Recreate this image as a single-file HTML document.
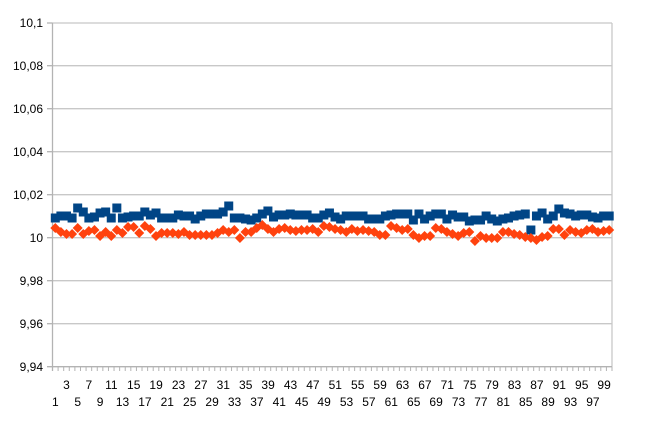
<!DOCTYPE html>
<html><head><meta charset="utf-8"><style>
html,body{margin:0;padding:0;background:#fff;}
svg{display:block;font-family:"Liberation Sans",sans-serif;font-size:12px;}
</style></head><body>
<svg id="s" width="649" height="427" viewBox="0 0 649 427">
<g stroke="#c8c8c8" stroke-width="1.3">
<line x1="52.5" x2="612" y1="23" y2="23"/>
<line x1="52.5" x2="612" y1="65.7" y2="65.7"/>
<line x1="52.5" x2="612" y1="108.7" y2="108.7"/>
<line x1="52.5" x2="612" y1="151.7" y2="151.7"/>
<line x1="52.5" x2="612" y1="194.7" y2="194.7"/>
<line x1="52.5" x2="612" y1="237.7" y2="237.7"/>
<line x1="52.5" x2="612" y1="280.7" y2="280.7"/>
<line x1="52.5" x2="612" y1="323.7" y2="323.7"/>
<line x1="612" x2="612" y1="23" y2="366.7"/>
</g>
<g stroke="#b3b3b3" stroke-width="1.3">
<line x1="52.5" x2="52.5" y1="23" y2="371"/>
<line x1="47" x2="612" y1="366.7" y2="366.7"/>
<line x1="47" x2="52.5" y1="23" y2="23"/><line x1="47" x2="52.5" y1="65.7" y2="65.7"/>
<line x1="47" x2="52.5" y1="108.7" y2="108.7"/><line x1="47" x2="52.5" y1="151.7" y2="151.7"/>
<line x1="47" x2="52.5" y1="194.7" y2="194.7"/><line x1="47" x2="52.5" y1="237.7" y2="237.7"/>
<line x1="47" x2="52.5" y1="280.7" y2="280.7"/><line x1="47" x2="52.5" y1="323.7" y2="323.7"/>
</g>
<g id="ticks" stroke="#b3b3b3" stroke-width="1"></g>
<g text-anchor="end" fill="#000">
<text x="43" y="27">10,1</text>
<text x="43" y="70">10,08</text>
<text x="43" y="113">10,06</text>
<text x="43" y="156">10,04</text>
<text x="43" y="199">10,02</text>
<text x="43" y="242">10</text>
<text x="43" y="285">9,98</text>
<text x="43" y="328">9,96</text>
<text x="43" y="371">9,94</text>
</g>
<g text-anchor="middle" fill="#000">
<text x="66.5" y="389">3</text><text x="88.9" y="389">7</text><text x="111.3" y="389">11</text><text x="133.7" y="389">15</text><text x="156.1" y="389">19</text><text x="178.5" y="389">23</text><text x="200.9" y="389">27</text><text x="223.3" y="389">31</text><text x="245.7" y="389">35</text><text x="268.1" y="389">39</text><text x="290.5" y="389">43</text><text x="312.9" y="389">47</text><text x="335.3" y="389">51</text><text x="357.7" y="389">55</text><text x="380.1" y="389">59</text><text x="402.5" y="389">63</text><text x="424.9" y="389">67</text><text x="447.3" y="389">71</text><text x="469.7" y="389">75</text><text x="492.1" y="389">79</text><text x="514.5" y="389">83</text><text x="536.9" y="389">87</text><text x="559.3" y="389">91</text><text x="581.7" y="389">95</text><text x="604.1" y="389">99</text>
<text x="55.3" y="406">1</text><text x="77.7" y="406">5</text><text x="100.1" y="406">9</text><text x="122.5" y="406">13</text><text x="144.9" y="406">17</text><text x="167.3" y="406">21</text><text x="189.7" y="406">25</text><text x="212.1" y="406">29</text><text x="234.5" y="406">33</text><text x="256.9" y="406">37</text><text x="279.3" y="406">41</text><text x="301.7" y="406">45</text><text x="324.1" y="406">49</text><text x="346.5" y="406">53</text><text x="368.9" y="406">57</text><text x="391.3" y="406">61</text><text x="413.7" y="406">65</text><text x="436.1" y="406">69</text><text x="458.5" y="406">73</text><text x="480.9" y="406">77</text><text x="503.3" y="406">81</text><text x="525.7" y="406">85</text><text x="548.1" y="406">89</text><text x="570.5" y="406">93</text><text x="592.9" y="406">97</text>
</g>
<g id="blue" fill="#004586"></g>
<g id="orange" fill="#ff420e"></g>
</svg>
<script>
var B=[218,216,216,218,208,212,218,217,213,212,218,208,218,217,216,216,212,215,213,218,218,218,215,216,216,219,216,214,214,214,212,206,218,218,219,220,218,214,211,217,215,215,214,215,215,215,218,218,215,213,217,219,216,216,216,216,219,219,219,216,215,214,214,214,220,214,219,216,214,214,219,215,217,217,221,220,220,216,219,221,219,218,216,215,214,230,216,213,219,216,209,213,214,216,215,215,217,218,216,216];
var O=[228,232,234,234,228,234,231,230,236,232,236,230,233,227,227,233,226,229,236,233,233,233,234,232,235,235,235,235,235,233,230,232,230,238,232,232,228,225,229,232,229,228,230,231,230,230,229,232,226,227,229,230,232,229,231,230,231,232,235,235,226,228,230,229,235,238,236,236,228,229,232,234,236,233,232,241,236,238,238,238,232,232,234,235,237,238,240,237,236,229,229,235,230,232,233,230,229,232,231,230];
var ns="http://www.w3.org/2000/svg";
function el(t,a,p){var e=document.createElementNS(ns,t);for(var k in a)e.setAttribute(k,a[k]);document.getElementById(p).appendChild(e);}
for(var i=0;i<=100;i++){var x=52.5+i*5.595;el("line",{x1:x,x2:x,y1:366.7,y2:371},"ticks");}
for(var i=0;i<100;i++){var x=52.5+(i+0.5)*5.595;
el("rect",{x:x-4.5,y:B[i]-4.5,width:9,height:9},"blue");
var y=O[i];el("polygon",{points:(x)+","+(y-5)+" "+(x+5)+","+y+" "+x+","+(y+5)+" "+(x-5)+","+y},"orange");}
</script>
</body></html>
